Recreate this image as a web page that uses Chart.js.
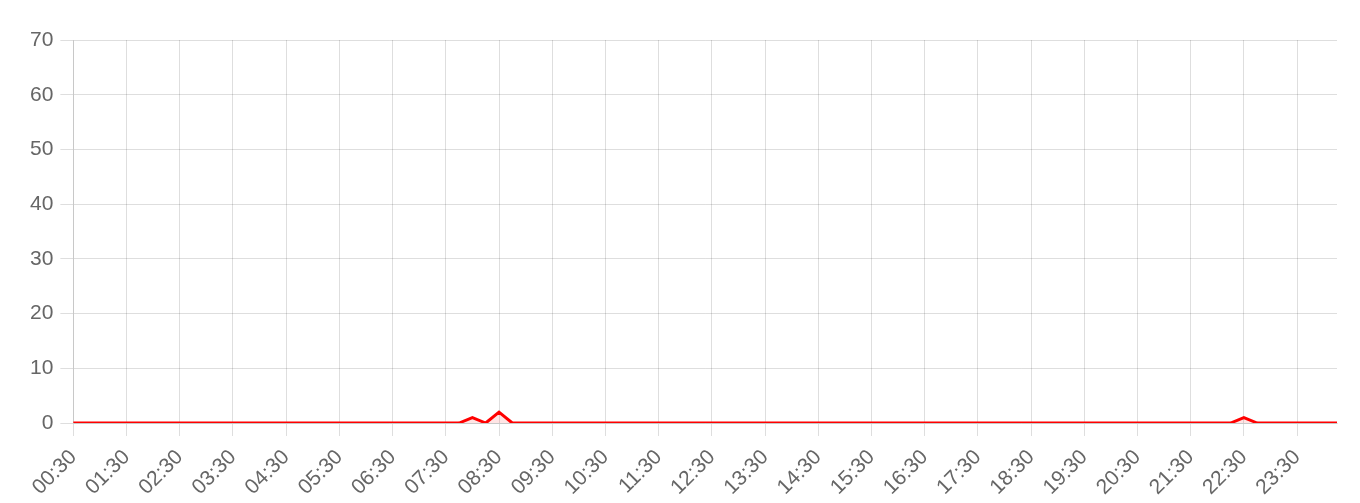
<!DOCTYPE html>
<html><head><meta charset="utf-8">
<script src="https://cdn.jsdelivr.net/npm/chart.js@4/dist/chart.umd.min.js"></script>
<style>html,body{margin:0;padding:0;background:#fff;}#wrap{width:1360px;height:503px;position:relative;}</style>
</head><body><div id="wrap"><canvas id="c"></canvas></div>
<script>
// 15-minute slots from 00:30 through 00:15 next day
const timeLabels = [
"00:30","00:45","01:00","01:15","01:30","01:45","02:00","02:15","02:30","02:45","03:00","03:15",
"03:30","03:45","04:00","04:15","04:30","04:45","05:00","05:15","05:30","05:45","06:00","06:15",
"06:30","06:45","07:00","07:15","07:30","07:45","08:00","08:15","08:30","08:45","09:00","09:15",
"09:30","09:45","10:00","10:15","10:30","10:45","11:00","11:15","11:30","11:45","12:00","12:15",
"12:30","12:45","13:00","13:15","13:30","13:45","14:00","14:15","14:30","14:45","15:00","15:15",
"15:30","15:45","16:00","16:15","16:30","16:45","17:00","17:15","17:30","17:45","18:00","18:15",
"18:30","18:45","19:00","19:15","19:30","19:45","20:00","20:15","20:30","20:45","21:00","21:15",
"21:30","21:45","22:00","22:15","22:30","22:45","23:00","23:15","23:30","23:45","00:00","00:15"];
const counts = [
0,0,0,0,0,0,0,0,0,0,0,0,
0,0,0,0,0,0,0,0,0,0,0,0,
0,0,0,0,0,0,1,0,2,0,0,0,
0,0,0,0,0,0,0,0,0,0,0,0,
0,0,0,0,0,0,0,0,0,0,0,0,
0,0,0,0,0,0,0,0,0,0,0,0,
0,0,0,0,0,0,0,0,0,0,0,0,
0,0,0,0,1,0,0,0,0,0,0,0];
const yMin = 0, yMax = 70, yStep = 10;

new Chart(document.getElementById('c'), {
  type: 'line',
  data: { labels: timeLabels, datasets: [{
    data: counts, borderColor: '#ff0000', backgroundColor: 'rgba(255,0,0,0.1)',
    fill: true, borderWidth: 3, pointRadius: 0, tension: 0
  }]},
  options: {
    responsive: true, maintainAspectRatio: false, animation: false,
    layout: { padding: { left: 23, right: 23, top: 40, bottom: -6 } },
    plugins: { legend: { display: false }, tooltip: { enabled: false } },
    scales: {
      x: {
        grid: { color: 'rgba(0,0,0,0.13)', tickLength: 13 },
        ticks: { autoSkip: false, maxRotation: 45, minRotation: 45, color: '#666', padding: 9,
          font: { family: 'Liberation Sans, Arial, sans-serif', size: 21 },
          callback: function(v, i){ return i % 4 === 0 ? timeLabels[i] : null; } }
      },
      y: {
        min: yMin, max: yMax,
        grid: { color: 'rgba(0,0,0,0.13)', tickLength: 13 },
        ticks: { stepSize: yStep, color: '#666', padding: 7,
          font: { family: 'Liberation Sans, Arial, sans-serif', size: 21 } }
      }
    }
  }
});
</script></body></html>
